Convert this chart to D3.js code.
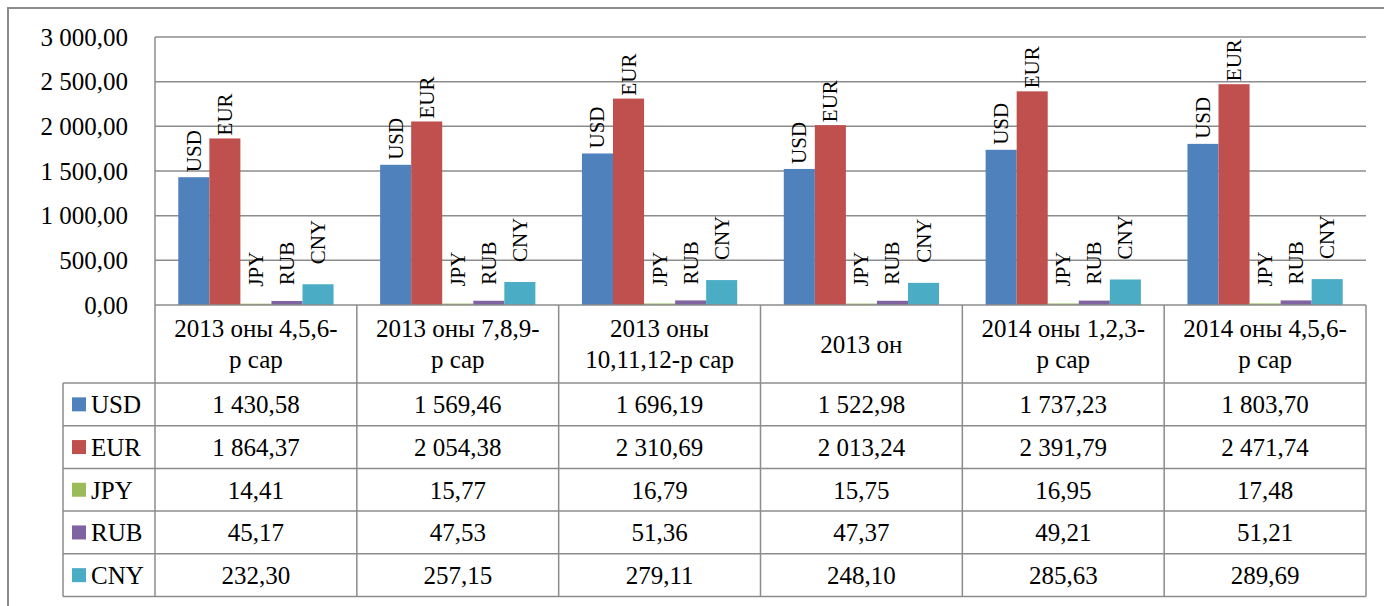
<!doctype html>
<html lang="mn">
<head>
 <meta charset="utf-8">
 <script src="https://cdn.jsdelivr.net/npm/d3@7"></script>
 <title>Валютын ханш</title>
 <style>
  body { margin: 0; background: #fff; }
  svg text { font-family: "Liberation Serif", "Times New Roman", "DejaVu Serif", serif; fill: #000; }
  .grid line { stroke: #8c8c8c; stroke-width: 1.5; }
  .tbl { stroke: #8c8c8c; stroke-width: 1.5; }
 </style>
</head>
<body>
<div id="chart"></div>
<script>
    // data
    var categories = [
      ["2013 оны 4,5,6-", "р сар"],
      ["2013 оны 7,8,9-", "р сар"],
      ["2013 оны", "10,11,12-р сар"],
      ["2013 он"],
      ["2014 оны 1,2,3-", "р сар"],
      ["2014 оны 4,5,6-", "р сар"]
    ];
    var seriesNames = ["USD", "EUR", "JPY", "RUB", "CNY"];
    var usd = [1430.58, 1569.46, 1696.19, 1522.98, 1737.23, 1803.70];
    var eur = [1864.37, 2054.38, 2310.69, 2013.24, 2391.79, 2471.74];
    var jpy = [14.41, 15.77, 16.79, 15.75, 16.95, 17.48];
    var rub = [45.17, 47.53, 51.36, 47.37, 49.21, 51.21];
    var cny = [232.30, 257.15, 279.11, 248.10, 285.63, 289.69];
    var yTicks = [0, 500, 1000, 1500, 2000, 2500, 3000];

    var values = [usd, eur, jpy, rub, cny];
    var colors = ["#4f81bd", "#c0504d", "#9bbb59", "#8064a2", "#4bacc6"];
    var labelGap = [5, 3, 17, 16, 20];

    var W = 1384, H = 606;
    var plotLeft = 155, plotRight = 1366, plotTop = 37, zeroY = 305;
    var legendLeft = 63, headerBottom = 383, rowH = 42.7;
    var serif = '"Liberation Serif", "Times New Roman", serif';

    var loc = d3.formatLocale({decimal: ",", thousands: "\u00a0", grouping: [3], currency: ["", ""]});
    var fmt = loc.format(",.2f");

    var svg = d3.select("#chart").append("svg")
        .attr("width", W)
        .attr("height", H);

    // outer frame
    svg.append("rect")
        .attr("x", 8).attr("y", 8)
        .attr("width", W + 20).attr("height", H + 20)
        .attr("fill", "none")
        .attr("stroke", "#8c8c8c")
        .attr("stroke-width", 2);

    var x0 = d3.scaleBand().domain(d3.range(categories.length)).range([plotLeft, plotRight]);
    var x1 = d3.scaleBand().domain(d3.range(seriesNames.length))
        .range([0, x0.bandwidth()]).paddingOuter(0.75);
    var y = d3.scaleLinear().domain([0, 3000]).range([zeroY, plotTop]);

    // gridlines
    svg.append("g").attr("class", "grid")
        .selectAll("line").data(yTicks.slice(1)).enter().append("line")
        .attr("x1", plotLeft).attr("x2", plotRight)
        .attr("y1", function (d) { return y(d); })
        .attr("y2", function (d) { return y(d); });

    // y axis labels
    svg.append("g").selectAll("text").data(yTicks).enter().append("text")
        .attr("x", 128)
        .attr("y", function (d) { return y(d); })
        .attr("dy", "0.35em")
        .attr("text-anchor", "end")
        .attr("font-family", serif)
        .style("font-size", "25px")
        .text(function (d) { return fmt(d); });

    // bars
    var groups = svg.selectAll(".grp").data(categories).enter().append("g")
        .attr("class", "grp")
        .attr("transform", function (d, i) { return "translate(" + x0(i) + ",0)"; });

    groups.each(function (c, i) {
        var g = d3.select(this);
        seriesNames.forEach(function (s, j) {
            var v = values[j][i];
            g.append("rect")
                .attr("x", x1(j))
                .attr("width", x1.bandwidth())
                .attr("y", y(v))
                .attr("height", zeroY - y(v))
                .attr("fill", colors[j]);
            var cx = x1(j) + x1.bandwidth() / 2;
            var ly = y(v) - labelGap[j];
            g.append("text")
                .attr("transform", "translate(" + (cx + 7) + "," + ly + ") rotate(-90)")
                .attr("text-anchor", "start")
                .attr("font-family", serif)
                .style("font-size", "21px")
                .text(s);
        });
    });

    // table
    var tableBottom = headerBottom + rowH * 5;
    svg.append("line").attr("class", "tbl")
        .attr("x1", plotLeft).attr("x2", plotLeft).attr("y1", plotTop).attr("y2", tableBottom);
    svg.append("line").attr("class", "tbl")
        .attr("x1", plotLeft).attr("x2", plotRight).attr("y1", zeroY).attr("y2", zeroY);
    d3.range(categories.length).forEach(function (i) {
        svg.append("line").attr("class", "tbl")
            .attr("x1", x0(i) + x0.bandwidth()).attr("x2", x0(i) + x0.bandwidth())
            .attr("y1", zeroY).attr("y2", tableBottom);
    });
    d3.range(6).forEach(function (r) {
        var yy = headerBottom + r * rowH;
        svg.append("line").attr("class", "tbl")
            .attr("x1", legendLeft).attr("x2", plotRight).attr("y1", yy).attr("y2", yy);
    });
    svg.append("line").attr("class", "tbl")
        .attr("x1", legendLeft).attr("x2", legendLeft).attr("y1", headerBottom).attr("y2", tableBottom);

    // header labels
    categories.forEach(function (c, i) {
        var cx = x0(i) + x0.bandwidth() / 2;
        var mid = (zeroY + headerBottom) / 2;
        c.forEach(function (line, k) {
            svg.append("text")
                .attr("x", cx)
                .attr("y", mid + (k - (c.length - 1) / 2) * 31)
                .attr("dy", "0.35em")
                .attr("text-anchor", "middle")
                .attr("font-family", serif)
                .style("font-size", "25px")
                .text(line);
        });
    });

    // legend column + values
    seriesNames.forEach(function (s, j) {
        var cy = headerBottom + j * rowH + rowH / 2;
        svg.append("rect")
            .attr("x", 72).attr("y", cy - 7)
            .attr("width", 14).attr("height", 14)
            .attr("fill", colors[j]);
        svg.append("text")
            .attr("x", 91).attr("y", cy)
            .attr("dy", "0.35em")
            .attr("font-family", serif)
            .style("font-size", "25px")
            .text(s);
        values[j].forEach(function (v, i) {
            svg.append("text")
                .attr("x", x0(i) + x0.bandwidth() / 2)
                .attr("y", cy)
                .attr("dy", "0.35em")
                .attr("text-anchor", "middle")
                .attr("font-family", serif)
                .style("font-size", "25px")
                .text(fmt(v));
        });
    });
</script>
</body>
</html>
